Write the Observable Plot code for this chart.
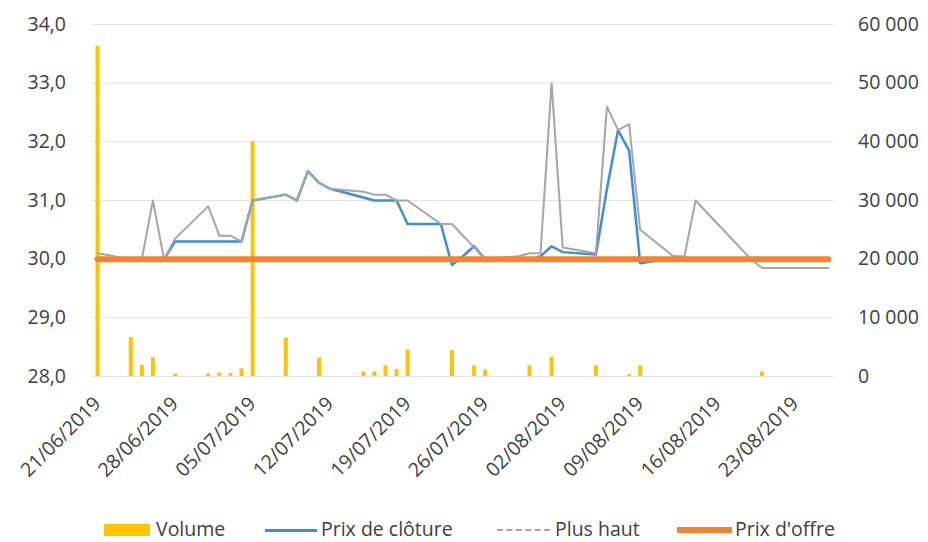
<!DOCTYPE html>
<html>
<head>
<meta charset="utf-8">
<script src="https://cdn.jsdelivr.net/npm/d3@7"></script>
<script src="https://cdn.jsdelivr.net/npm/@observablehq/plot@0.6"></script>
<style>
  body { margin: 0; background: #fff; font-family: "Open Sans", sans-serif; }
  #chart svg { display: block; }
  #legend { position: relative; width: 928px; height: 30px; font-size: 19.5px; color: #404040; }
  #legend .item { position: absolute; top: 4px; height: 26px; line-height: 26px; white-space: nowrap; }
  #legend .sw { position: absolute; }
</style>
</head>
<body>
<div id="chart"></div>
<div id="legend"></div>
<script>
// ---- data ----
const dates = [
  "2019-06-21","2019-06-24","2019-06-25","2019-06-26","2019-06-27","2019-06-28",
  "2019-07-01","2019-07-02","2019-07-03","2019-07-04","2019-07-05",
  "2019-07-08","2019-07-09","2019-07-10","2019-07-11","2019-07-12",
  "2019-07-15","2019-07-16","2019-07-17","2019-07-18","2019-07-19",
  "2019-07-22","2019-07-23","2019-07-24","2019-07-25","2019-07-26",
  "2019-07-29","2019-07-30","2019-07-31","2019-08-01","2019-08-02",
  "2019-08-05","2019-08-06","2019-08-07","2019-08-08","2019-08-09",
  "2019-08-12","2019-08-13","2019-08-14","2019-08-15","2019-08-16",
  "2019-08-19","2019-08-20","2019-08-21","2019-08-22","2019-08-23",
  "2019-08-26"
];
const plusHaut = [
  30.1, 30.0, 30.0, 31.0, 30.0, 30.35,
  30.9, 30.4, 30.4, 30.3, 31.0,
  31.1, 31.0, 31.5, 31.3, 31.2,
  31.15, 31.1, 31.1, 31.0, 31.0,
  30.6, 30.6, 30.4, 30.2, 30.0,
  30.05, 30.1, 30.1, 33.0, 30.2,
  30.1, 32.6, 32.2, 32.3, 30.5,
  30.05, 30.05, 31.0, 30.8, 30.6,
  30.0, 29.85, 29.85, 29.85, 29.85,
  29.85
];
const prixCloture = [
  30.0, 30.0, 30.0, 30.0, 30.0, 30.3,
  30.3, 30.3, 30.3, 30.3, 31.0,
  31.1, 31.0, 31.5, 31.3, 31.2,
  31.05, 31.0, 31.0, 31.0, 30.6,
  30.6, 29.9, 30.05, 30.22, 30.0,
  30.0, 30.0, 30.05, 30.22, 30.12,
  30.08, 31.2, 32.2, 31.85, 29.93,
  30.02, 30.0, 30.0, 30.0, 30.0,
  30.0, 30.0, 30.0, 30.0, 30.0,
  30.0
];
const volume = [
  56300, 6600, 1900, 3200, 0, 400,
  500, 600, 500, 1300, 40000,
  6500, 0, 0, 3100, 0,
  800, 800, 1800, 1200, 4500,
  0, 4400, 0, 1800, 1100,
  0, 1800, 0, 3300, 0,
  1800, 0, 0, 300, 1800,
  0, 0, 0, 0, 0,
  0, 800, 0, 0, 0,
  0
];
const prixOffre = [30.0];
const priceTicks = [28, 29, 30, 31, 32, 33, 34];
const volumeTicks = [0, 10000, 20000, 30000, 40000, 50000, 60000];
const dateTicks = ["2019-06-21","2019-06-28","2019-07-05","2019-07-12","2019-07-19",
                   "2019-07-26","2019-08-02","2019-08-09","2019-08-16","2019-08-23"];
const seriesNames = ["Volume", "Prix de clôture", "Plus haut", "Prix d'offre"];
const colors = {vol: "#FFC400", close: "#3D8EDC", high: "#A6A6A6", offer: "#F5822C"};

// ---- build table ----
const parse = d3.utcParse("%Y-%m-%d");
const rows = dates.map((d, i) => ({
  date: parse(d), high: plusHaut[i], close: prixCloture[i], vol: volume[i], offer: prixOffre[0]
}));
const volMax = 60000, yMin = 28, yMax = 34;
const volToY = v => yMin + v / volMax * (yMax - yMin);
const fmtPrice = d => d.toFixed(1).replace(".", ",");
const fmtVol = v => v === 0 ? "0" : d3.format(",")(v).replace(/,/g, " ");
const fmtDate = d3.utcFormat("%d/%m/%Y");

const H = 512;
const chart = Plot.plot({
  width: 928,
  height: H,
  marginLeft: 91.5,
  marginRight: 94.5,
  marginTop: 24,
  marginBottom: H - 376,
  style: {fontFamily: "Open Sans, sans-serif", fontSize: "19.5px", color: "#404040", background: "#fff"},
  x: {type: "utc", domain: [new Date(Date.UTC(2019, 5, 20, 12)), new Date(Date.UTC(2019, 7, 26, 12))]},
  y: {domain: [yMin, yMax]},
  marks: [
    Plot.gridY(priceTicks, {stroke: "#E4E4E4", strokeOpacity: 1, strokeWidth: 1}),
    Plot.ruleX(rows.filter(r => r.vol > 0), {x: "date", y1: yMin, y2: r => volToY(r.vol), stroke: colors.vol, strokeWidth: 4}),
    Plot.line(rows, {x: "date", y: "close", stroke: colors.close, strokeWidth: 2.5}),
    Plot.line(rows, {x: "date", y: "high", stroke: colors.high, strokeWidth: 2}),
    Plot.line(rows, {x: "date", y: "offer", stroke: colors.offer, strokeWidth: 6}),
    Plot.axisY(priceTicks, {anchor: "left", tickSize: 0, tickPadding: 26, tickFormat: fmtPrice}),
    Plot.axisY(volumeTicks.map(volToY), {anchor: "right", tickSize: 0, tickPadding: 24, tickFormat: d => fmtVol(Math.round((d - yMin) / (yMax - yMin) * volMax))}),
    Plot.axisX(dateTicks.map(parse), {anchor: "bottom", tickSize: 0, tickPadding: 24, tickRotate: -45, tickFormat: fmtDate})
  ]
});
document.getElementById("chart").appendChild(chart);

// ---- legend ----
const legend = document.getElementById("legend");
const items = [
  {name: seriesNames[0], x: 104, tx: 156, sw: `<div class="sw" style="left:0;top:8px;width:46px;height:12px;background:${colors.vol}"></div>`},
  {name: seriesNames[1], x: 265, tx: 321, sw: `<div class="sw" style="left:0;top:13px;width:52px;height:3px;background:${colors.close}"></div>`},
  {name: seriesNames[2], x: 497, tx: 555, sw: `<div class="sw" style="left:0;top:13px;width:53px;height:0;border-top:2px dashed ${colors.high}"></div>`},
  {name: seriesNames[3], x: 677, tx: 735, sw: `<div class="sw" style="left:0;top:11px;width:55px;height:6px;background:${colors.offer}"></div>`}
];
for (const it of items) {
  const s = document.createElement("div");
  s.className = "item";
  s.style.left = it.x + "px";
  s.style.width = "60px";
  s.innerHTML = it.sw;
  legend.appendChild(s);
  const t = document.createElement("div");
  t.className = "item";
  t.style.left = it.tx + "px";
  t.textContent = it.name;
  legend.appendChild(t);
}
</script>
</body>
</html>
